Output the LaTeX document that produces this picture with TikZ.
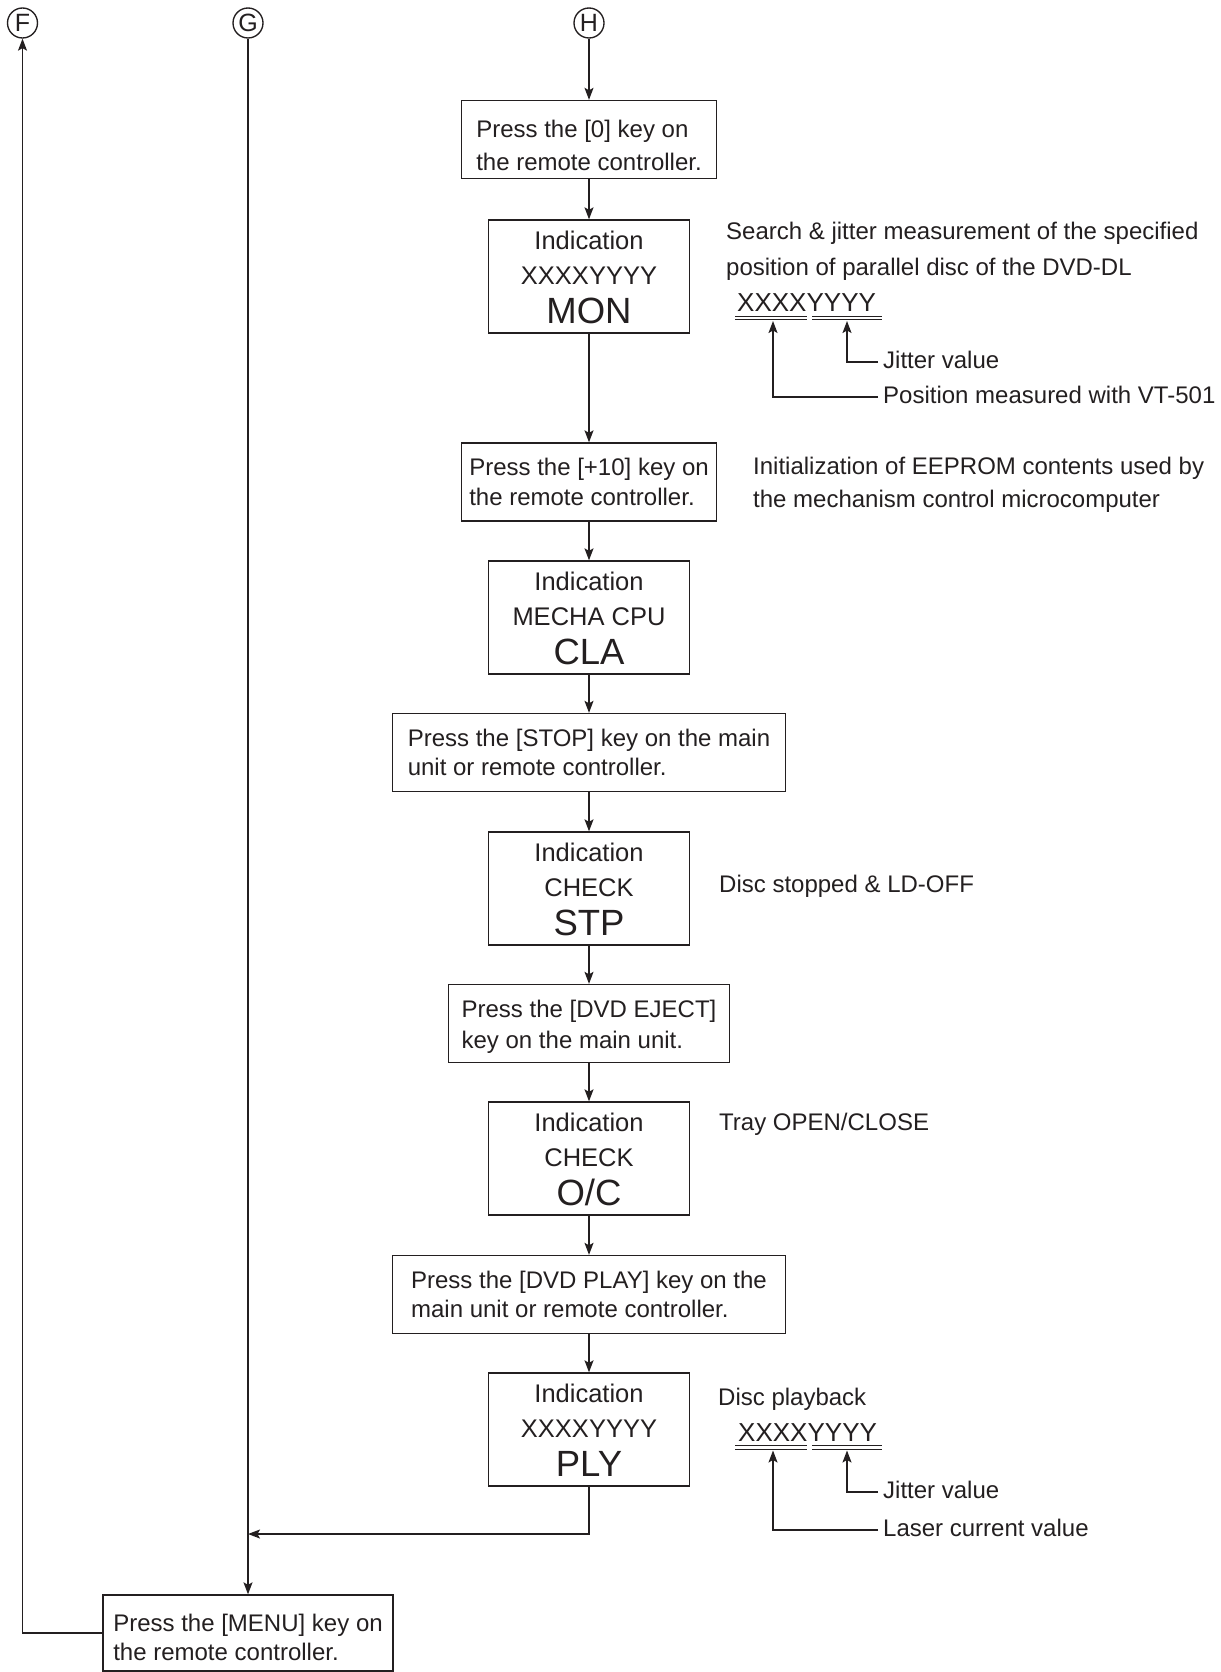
\documentclass[tikz,border=0pt]{standalone}
\usepackage{fontspec}
\setmainfont{Liberation Sans}
\usetikzlibrary{arrows.meta,calc}
\definecolor{ink}{RGB}{35,31,32}
\begin{document}
\begin{tikzpicture}[x=1pt,y=-1pt,
  every node/.style={text=ink},
  ln/.style={draw=ink,line width=1.35pt},
  arr/.style={ln,-{Stealth[length=12pt,width=9pt,inset=2.5pt]}},
  pbox/.style={draw=ink,line width=1.35pt,align=left,font=\fontsize{24}{29.5}\selectfont,minimum height=78pt,inner sep=0pt},
  ibox/.style={draw=ink,line width=1.35pt,minimum width=201pt,minimum height=113pt,inner sep=0pt},
  itxt/.style={anchor=base,inner sep=0pt,font=\fontsize{25.5}{30}\selectfont},
  btxt/.style={anchor=base,inner sep=0pt,font=\fontsize{36.5}{40}\selectfont},
  ann/.style={anchor=base west,inner sep=0pt,font=\fontsize{24}{28}\selectfont},
  xy/.style={anchor=base west,inner sep=0pt,font=\fontsize{26}{30}\selectfont},
  lab/.style={anchor=west,inner sep=0pt,text height=17.5pt,text depth=5pt,font=\fontsize{24}{28}\selectfont},
  conn/.style={draw=ink,line width=1.35pt,circle,minimum size=30pt,inner sep=0pt,font=\fontsize{25}{25}\selectfont},
  dbl/.style={draw=ink,line width=0.9pt}
]
\useasboundingbox (0,0) rectangle (1220,1672);

% connectors (circled letters)
\node[conn] (F) at (22.5,23) {F};
\node[conn] (G) at (248,23) {G};
\node[conn] (H) at (589,23) {H};

% main column
\node[pbox,minimum width=255pt,font=\fontsize{24}{33}\selectfont] (b1) at (589,139.5) {Press the [0] key on\rule{0pt}{30pt}\\the remote controller.};

\node[ibox] (b2) at (589,276.5) {};
\node[itxt] (b2a) at (589,249) {Indication};
\node[itxt] (b2b) at (589,284.5) {XXXXYYYY};
\node[btxt] (b2c) at (589,323.5) {MON};

\node[pbox,minimum width=255pt] (b3) at (589,482) {Press the [+10] key on\\the remote controller.};

\node[ibox] (b4) at (589,617.5) {};
\node[itxt] (b4a) at (589,590) {Indication};
\node[itxt] (b4b) at (589,625.5) {MECHA CPU};
\node[btxt] (b4c) at (589,664.5) {CLA};

\node[pbox,minimum width=393pt] (b5) at (589,752.5) {Press the [STOP] key on the main\\unit or remote controller.};

\node[ibox] (b6) at (589,888.5) {};
\node[itxt] (b6a) at (589,861) {Indication};
\node[itxt] (b6b) at (589,896.5) {CHECK};
\node[btxt] (b6c) at (589,935.5) {STP};

\node[pbox,minimum width=281pt,font=\fontsize{24}{31.5}\selectfont] (b7) at (589,1023.5) {Press the [DVD EJECT]\rule{0pt}{24pt}\\key on the main unit.};

\node[ibox] (b8) at (589,1158.5) {};
\node[itxt] (b8a) at (589,1131) {Indication};
\node[itxt] (b8b) at (589,1166.5) {CHECK};
\node[btxt] (b8c) at (589,1205.5) {O/C};

\node[pbox,minimum width=393pt] (b9) at (589,1294.5) {Press the [DVD PLAY] key on the\\main unit or remote controller.};

\node[ibox] (b10) at (589,1429.5) {};
\node[itxt] (b10a) at (589,1402) {Indication};
\node[itxt] (b10b) at (589,1437.5) {XXXXYYYY};
\node[btxt] (b10c) at (589,1476.5) {PLY};

\node[pbox,minimum width=290pt,minimum height=76pt] (b11) at (248,1633) {Press the [MENU] key on\rule{0pt}{26pt}\\the remote controller.};

% flow arrows
\foreach \a/\b in {H/b1,b1/b2,b2/b3,b3/b4,b4/b5,b5/b6,b6/b7,b7/b8,b8/b9,b9/b10}
  \draw[arr] (\a) -- (\b);
\coordinate (jn) at (248,1534);
\draw[arr] (b10.south) |- (jn);
\draw[arr] (G) -- (b11);
\draw[arr] (b11.west) -| (F.south);

% annotation: MON
\node[ann] (a1) at (726,239) {Search \& jitter measurement of the specified};
\node[ann] (a2) at (726,275) {position of parallel disc of the DVD-DL};
\node[xy] (x1) at (737,311) {XXXXYYYY};
\draw[dbl] (735,316)--(807,316) (735,319.5)--(807,319.5)
           (812,316)--(882,316) (812,319.5)--(882,319.5);
\coordinate (u1) at (773,321);
\coordinate (u2) at (847,321);
\node[lab] (j1) at (883,362) {Jitter value};
\node[lab] (p1) at (883,397) {Position measured with VT-501};
\draw[arr] ([xshift=-5pt]j1.west) -| (u2);
\draw[arr] ([xshift=-5pt]p1.west) -| (u1);

% annotation: CLA
\node[ann] (e1) at (753,474.5) {Initialization of EEPROM contents used by};
\node[ann] (e2) at (753,507) {the mechanism control microcomputer};

% annotation: STP, O/C
\node[ann] (s1) at (719,892) {Disc stopped \& LD-OFF};
\node[ann] (t1) at (719,1130.5) {Tray OPEN/CLOSE};

% annotation: PLY
\node[ann] (d1) at (718,1405) {Disc playback};
\node[xy] (x2) at (738,1441) {XXXXYYYY};
\draw[dbl] (735,1445.5)--(807,1445.5) (735,1449)--(807,1449)
           (812,1445.5)--(882,1445.5) (812,1449)--(882,1449);
\coordinate (u3) at (773,1450.5);
\coordinate (u4) at (847,1450.5);
\node[lab] (j2) at (883,1492) {Jitter value};
\node[lab] (l2) at (883,1530) {Laser current value};
\draw[arr] ([xshift=-5pt]j2.west) -| (u4);
\draw[arr] ([xshift=-5pt]l2.west) -| (u3);
\end{tikzpicture}
\end{document}
